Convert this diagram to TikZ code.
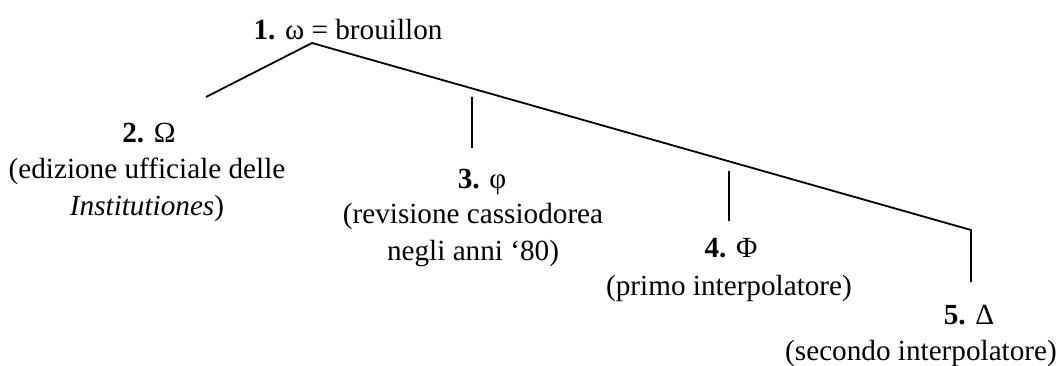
\documentclass[tikz,border=0pt]{standalone}
\usepackage{fontspec}
\setmainfont{Liberation Serif}
\usetikzlibrary{positioning}
\tikzset{
  witness/.style={font=\fontsize{14.6}{18.5}\selectfont, inner sep=0pt, align=center},
  gloss/.style={font=\fontsize{14.6}{18.5}\selectfont, inner sep=0pt, align=center},
  branch/.style={line width=0.9pt, black},
  stem/.style={line width=0.7pt, black},
}
\begin{document}
\begin{tikzpicture}[x=0.5pt, y=-0.5pt]
  \useasboundingbox (0,0) rectangle (1059,365);

  %% archetype
  \node[witness] (w1) at (348,30) {\textbf{1.} ω = brouillon};
  \coordinate (top) at (312,43);

  %% main branches
  \coordinate (left) at (206,97);
  \coordinate (right) at (971,230);
  \coordinate (rightend) at (971,282);
  \draw[branch] (left) -- (top) -- (right) -- (rightend);

  %% short stems
  \coordinate (s3a) at (472,97);
  \coordinate (s3b) at (472,148);
  \coordinate (s4a) at (729,171);
  \coordinate (s4b) at (729,221);
  \draw[stem] (s3a) -- (s3b);
  \draw[stem] (s4a) -- (s4b);

  %% witnesses
  \node[witness] (w2) at (149,133) {\textbf{2.} Ω};
  \node[gloss] (g2) at (147,190) {(edizione ufficiale delle\\\textit{Institutiones})};

  \node[witness] (w3) at (482,182) {\textbf{3.} φ};
  \node[gloss] (g3) at (473,235) {(revisione cassiodorea\\negli anni ‘80)};

  \node[witness] (w4) at (731,248) {\textbf{4.} Φ};
  \node[gloss] (g4) at (729,288) {(primo interpolatore)};

  \node[witness] (w5) at (969,315) {\textbf{5.} Δ};
  \node[gloss] (g5) at (921,353) {(secondo interpolatore)};

\end{tikzpicture}
\end{document}
